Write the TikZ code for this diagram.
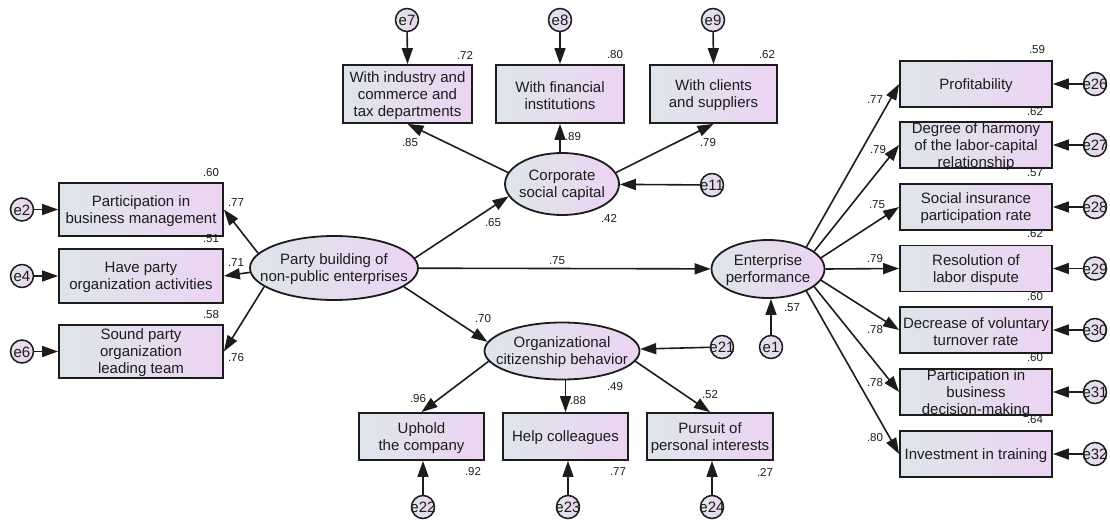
\documentclass[tikz,border=0pt]{standalone}
\usepackage{fontspec}
\setmainfont{Liberation Sans}
\usetikzlibrary{arrows.meta,shapes.geometric}
\definecolor{fillL}{RGB}{222,229,234}
\definecolor{fillR}{RGB}{236,212,243}
\definecolor{ink}{RGB}{28,28,28}
\begin{document}
\begin{tikzpicture}[x=1pt,y=-1pt,
  shade/.style={left color=fillL,right color=fillR},
  obs/.style={draw=ink,line width=1.8pt,rectangle,shade,inner sep=0pt},
  lat/.style={draw=ink,line width=1.8pt,ellipse,shade,inner sep=0pt},
  err/.style={draw=ink,line width=1.5pt,circle,shade,inner sep=0pt,minimum size=23pt},
  txt/.style={text=ink,inner sep=0pt,align=center,yshift=-1.5pt,font=\fontsize{15}{17}\selectfont},
  coef/.style={text=ink,inner sep=0pt,font=\fontsize{11.5}{13}\selectfont},
  path/.style={draw=ink,line width=1.6pt,-{Triangle[length=16pt,width=11pt]}},
]
\useasboundingbox (0,0) rectangle (1110,522);

% ---------- latent variables ----------
\node[lat,minimum width=168pt,minimum height=64pt] (party) at (334,268) {};
\node[lat,minimum width=114pt,minimum height=62pt] (corp) at (562,184) {};
\node[lat,minimum width=113pt,minimum height=58pt] (ent) at (768,269) {};
\node[lat,minimum width=155pt,minimum height=57pt] (ocb) at (562,351) {};

% ---------- observed variables: left ----------
\node[obs,minimum width=164pt,minimum height=53pt] (b2) at (141,209.5) {};
\node[obs,minimum width=164pt,minimum height=54pt] (b4) at (141,276) {};
\node[obs,minimum width=164pt,minimum height=53pt] (b6) at (141,351.5) {};

% ---------- observed variables: top ----------
\node[obs,minimum width=129pt,minimum height=58pt] (b7) at (407.5,94) {};
\node[obs,minimum width=128pt,minimum height=58pt] (b8) at (560,94) {};
\node[obs,minimum width=127pt,minimum height=58pt] (b9) at (713.5,94) {};

% ---------- observed variables: bottom ----------
\node[obs,minimum width=125pt,minimum height=47pt] (b22) at (421.5,436.5) {};
\node[obs,minimum width=125pt,minimum height=47pt] (b23) at (565.5,436.5) {};
\node[obs,minimum width=126pt,minimum height=47pt] (b24) at (710,436.5) {};

% ---------- observed variables: right ----------
\foreach \k/\y in {26/84,27/145,28/207,29/268.5,30/330,31/392,32/454}
  \node[obs,minimum width=152pt,minimum height=46pt] (b\k) at (976,\y) {};

% ---------- error terms ----------
\node[err] (e2) at (22,209.5) {};
\node[err] (e4) at (22,276) {};
\node[err] (e6) at (22,351.5) {};
\node[err] (e7) at (407,20) {};
\node[err] (e8) at (560,20) {};
\node[err] (e9) at (713,20) {};
\node[err] (e11) at (712,185) {};
\node[err] (e1) at (771,347) {};
\node[err] (e21) at (722,347) {};
\node[err] (e22) at (423,507) {};
\node[err] (e23) at (568,507) {};
\node[err] (e24) at (712,507) {};
\foreach \k/\y in {26/84,27/145,28/207,29/268.5,30/330,31/392,32/454}
  \node[err] (e\k) at (1095,\y) {};

% ---------- texts ----------
\node[txt] (tparty) at (party) {Party building of\\non-public enterprises};
\node[txt] (tcorp) at (corp) {Corporate\\social capital};
\node[txt] (tent) at (ent) {Enterprise\\performance};
\node[txt] (tocb) at (ocb) {Organizational\\citizenship behavior};
\node[txt] (t2) at (b2) {Participation in\\business management};
\node[txt] (t4) at (b4) {Have party\\organization activities};
\node[txt] (t6) at (b6) {Sound party\\organization\\leading team};
\node[txt] (t7) at (b7) {With industry and\\commerce and\\tax departments};
\node[txt] (t8) at (b8) {With financial\\institutions};
\node[txt] (t9) at (b9) {With clients\\and suppliers};
\node[txt] (t22) at (b22) {Uphold\\the company};
\node[txt] (t23) at (b23) {Help colleagues};
\node[txt] (t24) at (b24) {Pursuit of\\personal interests};
\node[txt] (t26) at (b26) {Profitability};
\node[txt] (t27) at (b27) {Degree of harmony\\of the labor-capital\\relationship};
\node[txt] (t28) at (b28) {Social insurance\\participation rate};
\node[txt] (t29) at (b29) {Resolution of\\labor dispute};
\node[txt] (t30) at (b30) {Decrease of voluntary\\turnover rate};
\node[txt] (t31) at (b31) {Participation in\\business\\decision-making};
\node[txt] (t32) at (b32) {Investment in training};
\foreach \k in {1,2,4,6,7,8,9,11,21,22,23,24,26,27,28,29,30,31,32}
  \node[txt,yshift=1pt] (te\k) at (e\k) {e\k};

% ---------- structural paths ----------
\draw[path] (party.7) -- (corp.193);
\draw[path] (party) -- (ent);
\draw[path] (party.-15) -- (ocb.173);

% ---------- measurement paths ----------
\draw[path] (party.169) -- (b2.east);
\draw[path] (party.183) -- (b4.east);
\draw[path] (party.195) -- (b6.east);
\draw[path] (corp.168) -- (b7.south);
\draw[path] (b8.south |- corp.north) -- (b8.south);
\draw[path] (corp.12) -- (b9.south);
\draw[path] (ocb.188) -- (b22.north);
\draw[path] (b23.north |- ocb.south) -- (b23.north);
\draw[path] (ocb.-8) -- (b24.north);
\foreach \k/\a in {26/30,27/21,28/12,29/0,30/-12,31/-21,32/-30}
  \draw[path] (ent.\a) -- (b\k.west);

% ---------- error paths ----------
\foreach \k in {2,4,6}
  \draw[path] (e\k) -- (b\k.west);
\foreach \k in {7,8,9}
  \draw[path] (e\k) -- (b\k.north);
\foreach \k in {26,27,28,29,30,31,32}
  \draw[path] (e\k) -- (b\k.east);
\foreach \k in {22,23,24}
  \draw[path] (e\k) -- (e\k |- b\k.south);
\draw[path] (e11) -- (corp);
\draw[path] (e21) -- (ocb);
\draw[path] (e1) -- (e1 |- ent.south);

% ---------- estimates ----------
\node[coef] (c1) at (211,173) {.60};
\node[coef] (c2) at (236,203) {.77};
\node[coef] (c3) at (211,239) {.51};
\node[coef] (c4) at (236,263) {.71};
\node[coef] (c5) at (211,315) {.58};
\node[coef] (c6) at (236,358) {.76};
\node[coef] (c7) at (465,55) {.72};
\node[coef] (c8) at (615,55) {.80};
\node[coef] (c9) at (767,55) {.62};
\node[coef] (c10) at (410,143) {.85};
\node[coef] (c11) at (573,137) {.89};
\node[coef] (c12) at (708,143) {.79};
\node[coef] (c13) at (609,218) {.42};
\node[coef] (c14) at (493,223) {.65};
\node[coef] (c15) at (557,261) {.75};
\node[coef] (c16) at (483,319) {.70};
\node[coef] (c17) at (615,387) {.49};
\node[coef] (c18) at (792,308) {.57};
\node[coef] (c19) at (418,399) {.96};
\node[coef] (c20) at (578,401) {.88};
\node[coef] (c21) at (710,395) {.52};
\node[coef] (c22) at (473,472) {.92};
\node[coef] (c23) at (618,472) {.77};
\node[coef] (c24) at (765,472) {.27};
\node[coef] (c25) at (1037,50) {.59};
\node[coef] (c26) at (1035,112) {.62};
\node[coef] (c27) at (1035,173) {.57};
\node[coef] (c28) at (1035,234) {.62};
\node[coef] (c29) at (1035,297) {.60};
\node[coef] (c30) at (1035,358) {.60};
\node[coef] (c31) at (1035,420) {.64};
\node[coef] (c32) at (875,100) {.77};
\node[coef] (c33) at (878,150) {.79};
\node[coef] (c34) at (877,205) {.75};
\node[coef] (c35) at (875,259) {.79};
\node[coef] (c36) at (875,330) {.78};
\node[coef] (c37) at (875,383) {.78};
\node[coef] (c38) at (875,438) {.80};
\end{tikzpicture}
\end{document}
